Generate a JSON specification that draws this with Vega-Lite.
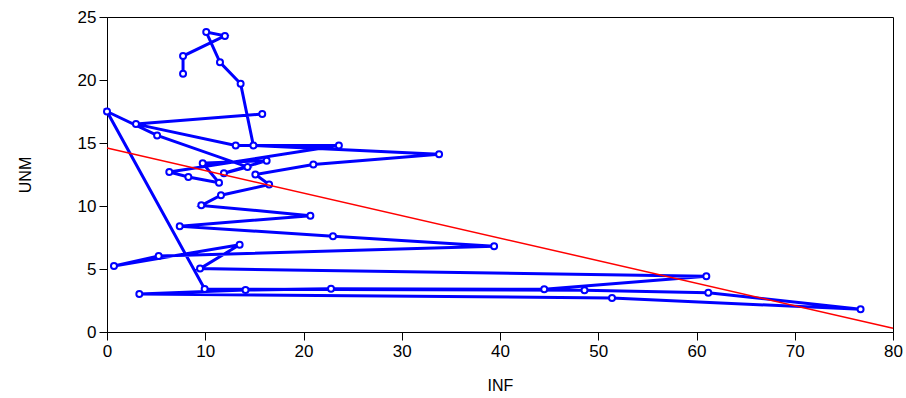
{
  "$schema": "https://vega.github.io/schema/vega-lite/v6.json",
  "width": 786,
  "height": 315,
  "autosize": "none",
  "padding": {"left": 107, "top": 17, "right": 13, "bottom": 66},
  "background": "white",
  "config": {
    "view": {"stroke": "black", "strokeWidth": 1},
    "axis": {
      "labelFont": "Liberation Sans",
      "titleFont": "Liberation Sans",
      "labelFontSize": 17,
      "titleFontSize": 16,
      "titleFontWeight": "normal",
      "labelColor": "black",
      "titleColor": "black",
      "tickColor": "black",
      "domainColor": "black",
      "grid": false,
      "tickSize": 8,
      "labelPadding": 3,
      "labelFlush": false
    }
  },
  "layer": [
    {
      "data": {
        "values": [
          {"t": 1, "INF": 15.8, "UNM": 17.3},
          {"t": 2, "INF": 2.95, "UNM": 16.5},
          {"t": 3, "INF": 13.1, "UNM": 14.8},
          {"t": 4, "INF": 23.6, "UNM": 14.8},
          {"t": 5, "INF": 6.34, "UNM": 12.7},
          {"t": 6, "INF": 8.28, "UNM": 12.3},
          {"t": 7, "INF": 11.4, "UNM": 11.85},
          {"t": 8, "INF": 9.74, "UNM": 13.4},
          {"t": 9, "INF": 16.25, "UNM": 13.6},
          {"t": 10, "INF": 11.9, "UNM": 12.6},
          {"t": 11, "INF": 14.3, "UNM": 13.1},
          {"t": 12, "INF": 5.1, "UNM": 15.6},
          {"t": 13, "INF": 0.0, "UNM": 17.5},
          {"t": 14, "INF": 9.94, "UNM": 3.41},
          {"t": 15, "INF": 48.6, "UNM": 3.31},
          {"t": 16, "INF": 61.2, "UNM": 3.12},
          {"t": 17, "INF": 76.7, "UNM": 1.8},
          {"t": 18, "INF": 51.4, "UNM": 2.7},
          {"t": 19, "INF": 3.29, "UNM": 3.02},
          {"t": 20, "INF": 14.1, "UNM": 3.33},
          {"t": 21, "INF": 22.8, "UNM": 3.44},
          {"t": 22, "INF": 44.5, "UNM": 3.39},
          {"t": 23, "INF": 61.0, "UNM": 4.42},
          {"t": 24, "INF": 9.47, "UNM": 5.03},
          {"t": 25, "INF": 13.5, "UNM": 6.93},
          {"t": 26, "INF": 0.71, "UNM": 5.24},
          {"t": 27, "INF": 5.26, "UNM": 6.03},
          {"t": 28, "INF": 39.4, "UNM": 6.8},
          {"t": 29, "INF": 23.0, "UNM": 7.6},
          {"t": 30, "INF": 7.4, "UNM": 8.4},
          {"t": 31, "INF": 20.7, "UNM": 9.23},
          {"t": 32, "INF": 9.6, "UNM": 10.05},
          {"t": 33, "INF": 11.6, "UNM": 10.85},
          {"t": 34, "INF": 16.5, "UNM": 11.7},
          {"t": 35, "INF": 15.1, "UNM": 12.5},
          {"t": 36, "INF": 21.0, "UNM": 13.3},
          {"t": 37, "INF": 33.8, "UNM": 14.1},
          {"t": 38, "INF": 14.9, "UNM": 14.8},
          {"t": 39, "INF": 13.6, "UNM": 19.7},
          {"t": 40, "INF": 11.5, "UNM": 21.4},
          {"t": 41, "INF": 10.1, "UNM": 23.8},
          {"t": 42, "INF": 12.0, "UNM": 23.5},
          {"t": 43, "INF": 7.74, "UNM": 21.9},
          {"t": 44, "INF": 7.74, "UNM": 20.5}
        ]
      },
      "mark": {
        "type": "line",
        "color": "#0000ff",
        "strokeWidth": 3,
        "point": {"filled": false, "fill": "white", "stroke": "#0000ff", "strokeWidth": 2, "size": 36, "opacity": 1}
      },
      "encoding": {
        "x": {
          "field": "INF", "type": "quantitative",
          "scale": {"domain": [0, 80], "nice": false},
          "axis": {"values": [0, 10, 20, 30, 40, 50, 60, 70, 80], "title": "INF", "titlePadding": 18}
        },
        "y": {
          "field": "UNM", "type": "quantitative",
          "scale": {"domain": [0, 25], "nice": false},
          "axis": {"values": [0, 5, 10, 15, 20, 25], "title": "UNM", "titlePadding": 44}
        },
        "order": {"field": "t"}
      }
    },
    {
      "data": {"values": [{"INF": 0, "UNM": 14.6}, {"INF": 80, "UNM": 0.3}]},
      "mark": {"type": "line", "color": "#ff0000", "strokeWidth": 1.5},
      "encoding": {
        "x": {"field": "INF", "type": "quantitative"},
        "y": {"field": "UNM", "type": "quantitative"}
      }
    }
  ]
}
